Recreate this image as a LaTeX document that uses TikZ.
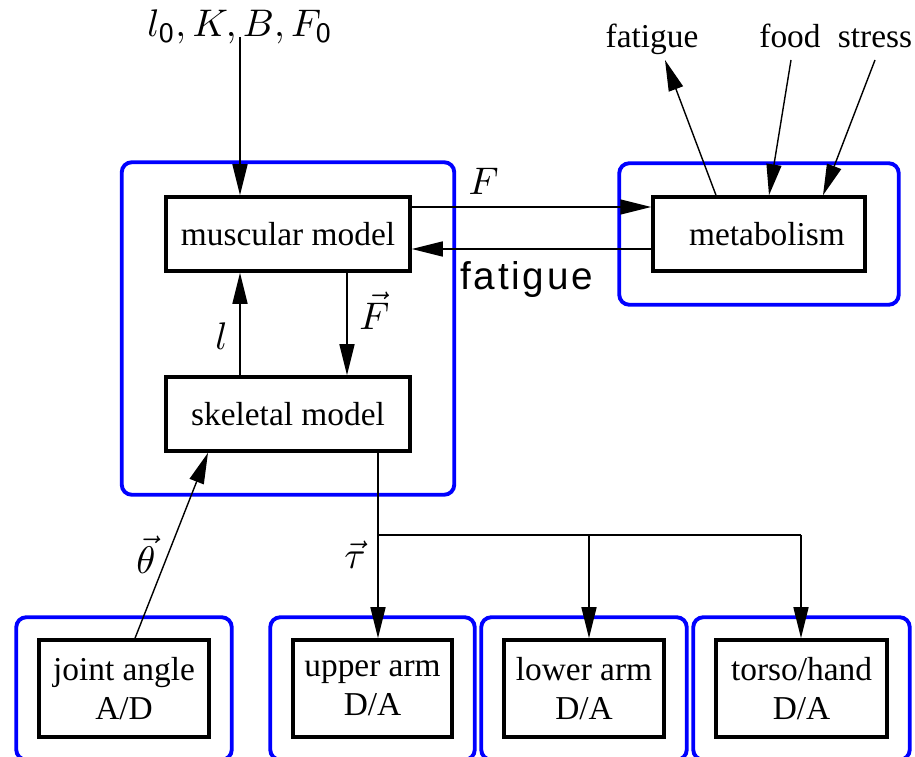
\documentclass[tikz,border=0pt]{standalone}
\usepackage[no-math]{fontspec}
\setmainfont{Liberation Serif}
\newfontfamily\labelsans[LetterSpace=7]{Liberation Sans}
\usetikzlibrary{arrows.meta,positioning,fit}
\tikzset{
  block/.style   = {draw, line width=1pt, rectangle, align=center, inner sep=0pt,
                    font=\fontsize{9.5}{11}\selectfont},
  group/.style   = {draw=blue, line width=1.1pt, rounded corners=0.1cm,
                    inner sep=0.21cm},
  sig/.style     = {-{Triangle[length=0.31cm,width=0.15cm]}, line width=0.4pt},
  mathlbl/.style = {font=\fontsize{11}{13}\selectfont},
  txtlbl/.style  = {font=\fontsize{9.5}{11}\selectfont, inner sep=0pt},
}

\begin{document}
\begin{tikzpicture}[x=1cm,y=1cm]
\useasboundingbox (0,0) rectangle (9.15,7.56);
% ---------- blocks ----------
\node[block, minimum width=2.44cm, minimum height=0.74cm] (musc) at (2.88,5.22) {muscular model};
\node[block, minimum width=2.44cm, minimum height=0.74cm] (skel) at (2.88,3.42) {skeletal model};
\node[block, minimum width=2.12cm, minimum height=0.74cm] (metab) at (7.59,5.22) {\hspace{0.16cm}metabolism};
\node[block, minimum width=1.70cm, minimum height=0.97cm] (joint) at (1.24,0.675) {joint angle\\A/D};
\node[block, minimum width=1.59cm, minimum height=0.97cm] (upper) at (3.725,0.675) {upper arm\\D/A};
\node[block, minimum width=1.60cm, minimum height=0.97cm] (lower) at (5.84,0.675) {lower arm\\D/A};
\node[block, minimum width=1.71cm, minimum height=0.97cm] (torso) at (8.015,0.675) {torso/hand\\D/A};
% ---------- groups ----------
\node[group, fit=(musc)(skel), inner xsep=0.425cm, inner ysep=0.375cm, yshift=-0.045cm] (core) {};
\node[group, fit=(metab), inner sep=0.32cm] (metgrp) {};
\node[group, fit=(joint)] (jointgrp) {};
\node[group, fit=(upper)] (uppergrp) {};
\node[group, fit=(lower)] (lowergrp) {};
\node[group, fit=(torso)] (torsogrp) {};
% ---------- outer labels ----------
\node[mathlbl, anchor=base] (params) at (2.40,7.19) {$l_{\mathsf{0}}, K, B, F_{\mathsf{0}}$};
\node[txtlbl, anchor=base] (fatout) at (6.52,7.08) {fatigue};
\node[txtlbl, anchor=base] (food) at (7.90,7.08) {food};
\node[txtlbl, anchor=base] (stress) at (8.75,7.08) {stress};
% ---------- signals ----------
\draw[sig] (params.base) -- (params.base |- musc.north);
\draw[sig] ([xshift=-0.48cm]skel.north) -- node[mathlbl, left, pos=0.38] {$l$} ([xshift=-0.48cm]musc.south);
\draw[sig] ([xshift=0.59cm]musc.south) -- node[mathlbl, right, pos=0.37] {$\vec{F}$} ([xshift=0.59cm]skel.north);
\draw[sig] ([yshift=0.27cm]musc.east) -- node[mathlbl, above, pos=0.3] {$F$} ([yshift=0.27cm]musc.east -| metab.west);
\draw[sig] ([yshift=-0.15cm]metab.west) -- node[below, pos=0.52, font=\labelsans\fontsize{11}{13}\selectfont] {fatigue} ([yshift=-0.15cm]metab.west -| musc.east);
\draw[sig] ([xshift=-0.43cm]metab.north) -- ([xshift=0.13cm,yshift=-0.12cm]fatout.base);
\draw[sig] ([xshift=0.01cm,yshift=-0.12cm]food.base) -- ([xshift=0.10cm]metab.north);
\draw[sig] ([yshift=-0.12cm]stress.base) -- ([xshift=0.64cm]metab.north);
% ---------- torque fan-out ----------
\coordinate (split) at (3.78,2.21);
\coordinate (tap2) at (5.89,2.21);
\coordinate (tap3) at (8.01,2.21);
\draw[line width=0.4pt] (split |- skel.south) -- (split) -- (tap3);
\draw[sig] (split) -- node[mathlbl, left, pos=0.19] {$\vec{\tau}$} (split |- upper.north);
\draw[sig] (tap2) -- (tap2 |- lower.north);
\draw[sig] (tap3) -- (tap3 |- torso.north);
\draw[sig] ([xshift=0.11cm]joint.north) -- node[mathlbl, left, pos=0.45] {$\vec{\theta}$} ([xshift=-0.80cm]skel.south);
\end{tikzpicture}
\end{document}
